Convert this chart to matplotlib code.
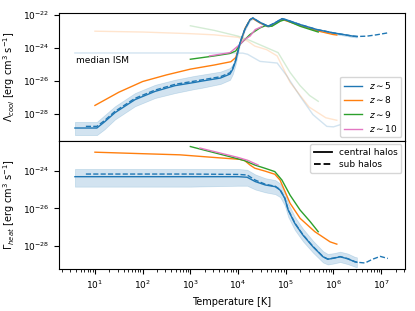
import numpy as np
import matplotlib
matplotlib.use("Agg")
import matplotlib.pyplot as plt
from matplotlib.lines import Line2D

# ---------------- data (log10 values) ----------------
# top panel: cooling rates
z5_cool_T = [0.58, 1.04, 1.2, 1.42, 1.84, 2.26, 2.68, 3.1, 3.21, 3.63, 3.83, 3.89, 3.95, 4.04, 4.14, 4.25, 4.31, 4.46, 4.63, 4.77, 4.92, 5.0, 5.3, 5.65, 5.99, 6.41, 6.49]
z5_cool = [-28.87, -28.87, -28.5, -27.94, -27.15, -26.65, -26.3, -26.1, -26.04, -25.84, -25.6, -25.3, -24.8, -23.7, -22.9, -22.3, -22.2, -22.47, -22.7, -22.5, -22.24, -22.3, -22.6, -22.9, -23.1, -23.3, -23.32]
z5_cool_lo = [-29.3, -29.3, -28.95, -28.35, -27.55, -27.05, -26.75, -26.5, -26.45, -26.2, -25.95, -25.6, -25.0, -23.8, -22.97, -22.36, -22.26, -22.53, -22.76, -22.56, -22.3, -22.36, -22.66, -22.96, -23.16, -23.36, -23.38]
z5_cool_hi = [-28.5, -28.5, -28.1, -27.55, -26.75, -26.25, -25.94, -25.7, -25.65, -25.45, -25.23, -25.0, -24.6, -23.6, -22.83, -22.24, -22.14, -22.41, -22.64, -22.44, -22.18, -22.24, -22.54, -22.84, -23.04, -23.24, -23.26]
z5_cool_sub_T = [0.81, 1.04, 1.2, 1.42, 1.84, 2.26, 2.68, 3.1, 3.63, 3.83, 3.89, 3.95, 4.04, 4.14, 4.25, 4.31, 4.46, 4.63, 4.77, 4.92, 5.0, 5.3, 5.65, 5.99, 6.41, 6.49, 6.7, 6.9, 7.14]
z5_cool_sub = [-28.77, -28.77, -28.42, -27.86, -27.07, -26.57, -26.22, -26.02, -25.76, -25.52, -25.22, -24.75, -23.7, -22.9, -22.3, -22.2, -22.47, -22.7, -22.5, -22.24, -22.3, -22.6, -22.9, -23.1, -23.3, -23.32, -23.3, -23.22, -23.1]

z8_cool_T = [1.0, 1.5, 2.0, 2.5, 3.0, 3.5, 3.85, 3.95, 4.05, 4.15, 4.25, 4.3, 4.46, 4.63, 4.77, 4.92, 5.3, 5.65, 5.99, 6.07]
z8_cool = [-27.5, -26.7, -26.05, -25.65, -25.3, -25.05, -24.85, -24.6, -23.7, -22.8, -22.3, -22.22, -22.5, -22.72, -22.55, -22.28, -22.65, -22.97, -23.2, -23.23]

z9_cool_T = [3.0, 3.5, 3.83, 3.95, 4.04, 4.25, 4.46, 4.57, 4.71, 4.88, 4.98, 5.3, 5.68]
z9_cool = [-24.7, -24.5, -24.35, -24.2, -23.8, -23.2, -22.8, -22.67, -22.7, -22.4, -22.3, -22.7, -23.05]

z10_cool_T = [3.4, 3.83, 4.04, 4.14, 4.25, 4.36, 4.5]
z10_cool = [-24.5, -24.3, -23.8, -23.5, -23.3, -22.9, -22.72]

# median ISM (faint) lines
ism5_T = [0.58, 2.0, 3.0, 4.1, 4.2, 4.46, 4.82, 5.03, 5.3, 5.57, 5.86, 6.0, 6.14]
ism5 = [-24.32, -24.32, -24.32, -24.33, -24.4, -24.83, -24.93, -25.74, -26.95, -28.06, -28.77, -28.8, -28.67]
ism8_T = [1.0, 2.0, 3.0, 3.5, 4.0, 4.2, 4.35, 4.6, 4.82, 5.09, 5.49, 5.84, 6.07]
ism8 = [-23.0, -23.05, -23.15, -23.22, -23.37, -23.6, -23.9, -24.12, -24.5, -26.1, -27.6, -28.25, -28.4]
ism9_T = [3.0, 3.5, 4.0, 4.2, 4.6, 4.84, 5.09, 5.3, 5.5, 5.68]
ism9 = [-22.67, -22.95, -23.3, -23.5, -24.0, -24.3, -25.5, -26.3, -26.9, -27.25]

# bottom panel: heating rates
z5_heat_T = [0.58, 2.0, 3.0, 4.0, 4.19, 4.36, 4.57, 4.78, 4.88, 4.98, 5.05, 5.19, 5.36, 5.57, 5.78, 5.88, 6.0, 6.14, 6.3, 6.45, 6.49]
z5_heat = [-24.32, -24.32, -24.32, -24.32, -24.35, -24.58, -24.76, -24.85, -25.03, -25.47, -26.09, -26.8, -27.42, -28.04, -28.57, -28.7, -28.65, -28.57, -28.68, -28.84, -28.86]
z5_heat_lo = [-24.85, -24.85, -24.85, -24.8, -24.8, -25.0, -25.15, -25.25, -25.4, -25.85, -26.45, -27.15, -27.75, -28.35, -28.87, -28.98, -28.93, -28.85, -28.96, -29.1, -29.12]
z5_heat_hi = [-23.91, -23.91, -23.91, -23.91, -23.95, -24.2, -24.4, -24.5, -24.68, -25.1, -25.72, -26.45, -27.08, -27.72, -28.27, -28.42, -28.38, -28.3, -28.4, -28.58, -28.6]
z5_heat_sub_T = [0.81, 2.0, 3.0, 4.0, 4.19, 4.36, 4.57, 4.78, 4.88, 4.98, 5.05, 5.19, 5.36, 5.57, 5.78, 5.88, 6.0, 6.14, 6.3, 6.45, 6.49, 6.66, 6.82, 6.98, 7.14]
z5_heat_sub = [-24.18, -24.18, -24.18, -24.2, -24.23, -24.5, -24.72, -24.83, -25.0, -25.45, -26.07, -26.78, -27.4, -28.02, -28.56, -28.69, -28.64, -28.56, -28.67, -28.83, -28.86, -28.9, -28.7, -28.55, -28.66]

z8_heat_T = [1.0, 2.0, 2.78, 3.5, 4.04, 4.14, 4.25, 4.35, 4.56, 4.77, 4.88, 4.94, 5.09, 5.3, 5.61, 5.93, 6.07]
z8_heat = [-23.02, -23.1, -23.16, -23.3, -23.4, -23.47, -23.7, -23.87, -24.02, -24.19, -24.5, -24.85, -25.73, -26.53, -27.24, -27.78, -27.9]

z9_heat_T = [3.0, 3.83, 4.14, 4.35, 4.56, 4.77, 4.92, 5.09, 5.3, 5.51, 5.68]
z9_heat = [-22.72, -23.26, -23.47, -23.7, -23.87, -24.05, -24.5, -25.3, -26.09, -26.7, -27.24]

z10_heat_T = [3.2, 3.6, 4.0, 4.2, 4.42]
z10_heat = [-22.8, -23.05, -23.3, -23.45, -23.7]

labels = [r"$z\sim5$", r"$z\sim8$", r"$z\sim9$", r"$z\sim10$"]
colors = ["#1f77b4", "#ff7f0e", "#2ca02c", "#e377c2"]

def p(a):
    return 10.0 ** np.asarray(a)

plt.rcParams["font.size"] = 7
plt.rcParams["xtick.labelsize"] = 6.5
plt.rcParams["ytick.labelsize"] = 6.5
fig = plt.figure(figsize=(4.15, 3.11), dpi=100)
ax1 = fig.add_axes([0.142, 0.547, 0.834, 0.411])
ax2 = fig.add_axes([0.142, 0.135, 0.834, 0.412], sharex=ax1)

lw = 1.0
# ---- top panel ----
ax1.plot(p(ism5_T), p(ism5), color=colors[0], alpha=0.2, lw=lw)
ax1.plot(p(ism8_T), p(ism8), color=colors[1], alpha=0.2, lw=lw)
ax1.plot(p(ism9_T), p(ism9), color=colors[2], alpha=0.2, lw=lw)
ax1.fill_between(p(z5_cool_T), p(z5_cool_lo), p(z5_cool_hi), color=colors[0], alpha=0.2, lw=0.5)
ax1.plot(p(z8_cool_T), p(z8_cool), color=colors[1], lw=lw)
ax1.plot(p(z9_cool_T), p(z9_cool), color=colors[2], lw=lw)
ax1.plot(p(z10_cool_T), p(z10_cool), color=colors[3], lw=lw)
ax1.plot(p(z5_cool_T), p(z5_cool), color=colors[0], lw=lw)
ax1.plot(p(z5_cool_sub_T), p(z5_cool_sub), color=colors[0], lw=lw, ls="--")
ax1.text(4.0, 10 ** -24.95, "median ISM", fontsize=6.5)

h1 = [Line2D([], [], color=c, lw=1.0) for c in colors]
ax1.legend(h1, labels, loc="lower right", fontsize=6.5, labelspacing=0.35,
           borderaxespad=0.4)

ax1.set_xscale("log")
ax1.set_yscale("log")
ax1.set_xlim(10 ** 0.245, 10 ** 7.5)
ax1.set_ylim(10 ** -29.65, 10 ** -21.9)
ax1.set_yticks([1e-22, 1e-24, 1e-26, 1e-28])
ax1.yaxis.set_minor_locator(matplotlib.ticker.NullLocator())
ax1.tick_params(axis="x", which="both", bottom=False, labelbottom=False)
ax1.set_ylabel(r"$\Lambda_{cool}$ [erg cm$^3$ s$^{-1}$]")

# ---- bottom panel ----
ax2.fill_between(p(z5_heat_T), p(z5_heat_lo), p(z5_heat_hi), color=colors[0], alpha=0.2, lw=0.5)
ax2.plot(p(z8_heat_T), p(z8_heat), color=colors[1], lw=lw)
ax2.plot(p(z9_heat_T), p(z9_heat), color=colors[2], lw=lw)
ax2.plot(p(z10_heat_T), p(z10_heat), color=colors[3], lw=lw)
ax2.plot(p(z5_heat_T), p(z5_heat), color=colors[0], lw=lw)
ax2.plot(p(z5_heat_sub_T), p(z5_heat_sub), color=colors[0], lw=lw, ls="--")
h2 = [Line2D([], [], color="black", lw=1.3), Line2D([], [], color="black", lw=1.3, ls="--")]
ax2.legend(h2, ["central halos", "sub halos"], loc="upper right", fontsize=6.5,
           labelspacing=0.35, borderaxespad=0.4)
ax2.set_yscale("log")
ax2.set_ylim(10 ** -29.22, 10 ** -22.42)
ax2.set_yticks([1e-24, 1e-26, 1e-28])
ax2.yaxis.set_minor_locator(matplotlib.ticker.NullLocator())
ax2.set_xticks([1e1, 1e2, 1e3, 1e4, 1e5, 1e6, 1e7])
ax2.xaxis.set_minor_locator(matplotlib.ticker.LogLocator(base=10, subs=np.arange(2, 10), numticks=20))
ax2.xaxis.set_minor_formatter(matplotlib.ticker.NullFormatter())
ax2.set_ylabel(r"$\Gamma_{heat}$ [erg cm$^3$ s$^{-1}$]")
ax2.set_xlabel("Temperature [K]")

fig.savefig("out.png", dpi=100)
